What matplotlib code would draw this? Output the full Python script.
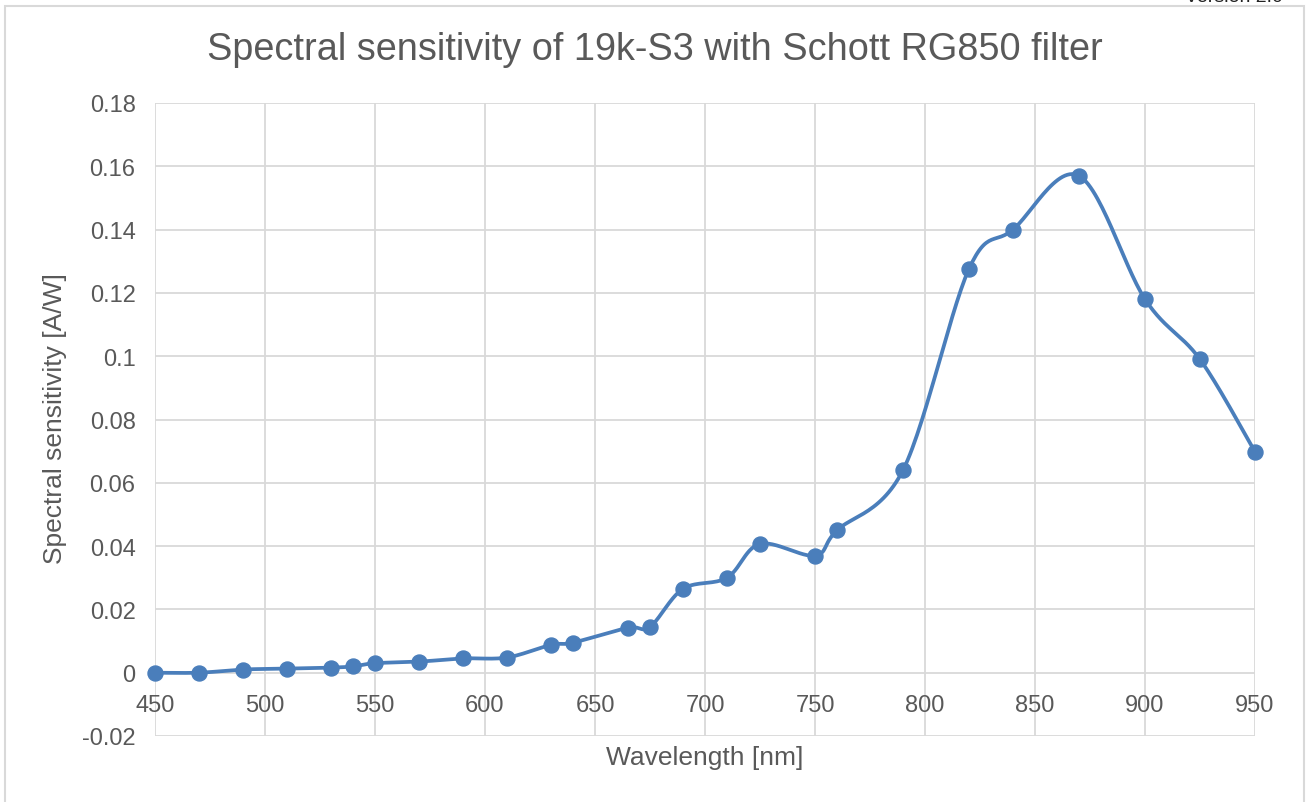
import numpy as np
import matplotlib
matplotlib.use("Agg")
import matplotlib.pyplot as plt
from matplotlib.patches import Rectangle

# ---- data ----
wavelength = [450, 470, 490, 510, 530, 540, 550, 570, 590, 610, 630, 640, 665, 675,
              690, 710, 725, 750, 760, 790, 820, 840, 870, 900, 925, 950]
sensitivity = [0.0, 0.0, 0.001, 0.0013, 0.0016, 0.002, 0.003, 0.0035, 0.0045, 0.0048,
               0.0088, 0.0095, 0.0142, 0.0145, 0.0265, 0.030, 0.0407, 0.037, 0.045,
               0.064, 0.1276, 0.140, 0.157, 0.118, 0.099, 0.0698]
x_ticks = [450, 500, 550, 600, 650, 700, 750, 800, 850, 900, 950]
y_ticks = [-0.02, 0, 0.02, 0.04, 0.06, 0.08, 0.1, 0.12, 0.14, 0.16, 0.18]
y_tick_labels = ["-0.02", "0", "0.02", "0.04", "0.06", "0.08", "0.1", "0.12", "0.14", "0.16", "0.18"]
title = "Spectral sensitivity of 19k-S3 with Schott RG850 filter"
x_label = "Wavelength [nm]"
y_label = "Spectral sensitivity [A/W]"

W, H = 1307, 803
DPI = 100
plt.rcParams['font.family'] = ['Liberation Sans', 'DejaVu Sans']
TXT = '#595959'
GRID = '#d9d9d9'
BLUE = '#4a7ebb'

fig = plt.figure(figsize=(W / DPI, H / DPI), dpi=DPI)
fig.patch.set_facecolor('white')

# outer chart frame
fig.patches.append(Rectangle((5 / W, -0.05), (1304 - 5) / W, 1 - 7 / H + 0.05,
                             transform=fig.transFigure, fill=False,
                             edgecolor=GRID, linewidth=1.5))
fig.text(1234 / W, 1.0 + 2 / H, "Version 2.0", ha='center', va='center',
         fontsize=14, color='#222222')

left, right, top, bottom = 155, 1255, 104, 737
ax = fig.add_axes([left / W, 1 - bottom / H, (right - left) / W, (bottom - top) / H])
xmin, xmax, ymin, ymax = 450, 950, -0.02, 0.18
ax.set_xlim(xmin, xmax)
ax.set_ylim(ymin, ymax)

# smoothed line (Catmull-Rom style Bezier in screen space, like Excel smoothing)
sx = (right - left) / (xmax - xmin)
sy = (bottom - top) / (ymax - ymin)
P = np.column_stack([np.array(wavelength) * sx, np.array(sensitivity) * sy])
n = len(P)
curve = []
t = np.linspace(0, 1, 30)
for i in range(n - 1):
    p0 = P[i - 1] if i > 0 else P[i]
    p1 = P[i]
    p2 = P[i + 1]
    p3 = P[i + 2] if i + 2 < n else P[i + 1]
    c1 = p1 + (p2 - p0) / 6.0
    c2 = p2 - (p3 - p1) / 6.0
    seg = ((1 - t)[:, None] ** 3 * p1 + 3 * ((1 - t) ** 2 * t)[:, None] * c1
           + 3 * ((1 - t) * t ** 2)[:, None] * c2 + (t ** 3)[:, None] * p2)
    curve.append(seg if i == 0 else seg[1:])
curve = np.vstack(curve)
ax.plot(curve[:, 0] / sx, curve[:, 1] / sy, color=BLUE, linewidth=2.7,
        solid_capstyle='round', zorder=3, clip_on=False)
ax.plot(wavelength, sensitivity, linestyle='none', marker='o', markersize=10.8,
        color=BLUE, zorder=4, clip_on=False)

ax.set_xticks(x_ticks)
ax.set_yticks(y_ticks)
ax.set_yticklabels(y_tick_labels)
ax.grid(True, color=GRID, linewidth=1.3)
ax.set_axisbelow(True)
for s in ['top', 'right', 'left', 'bottom']:
    ax.spines[s].set_visible(False)
ax.spines['bottom'].set_position(('data', 0))
ax.tick_params(axis='both', length=0, labelsize=17, labelcolor=TXT)
ax.tick_params(axis='x', pad=15)
ax.tick_params(axis='y', pad=14)

fig.text(655 / W, 1 - 50 / H, title, ha='center', va='center', fontsize=27.3, color=TXT)
fig.text(705 / W, 1 - 758 / H, x_label, ha='center', va='center', fontsize=19, color=TXT)
fig.text(55 / W, 1 - 419 / H, y_label, ha='center', va='center', fontsize=19,
         color=TXT, rotation=90)

fig.savefig('out.png', dpi=DPI, facecolor='white')
